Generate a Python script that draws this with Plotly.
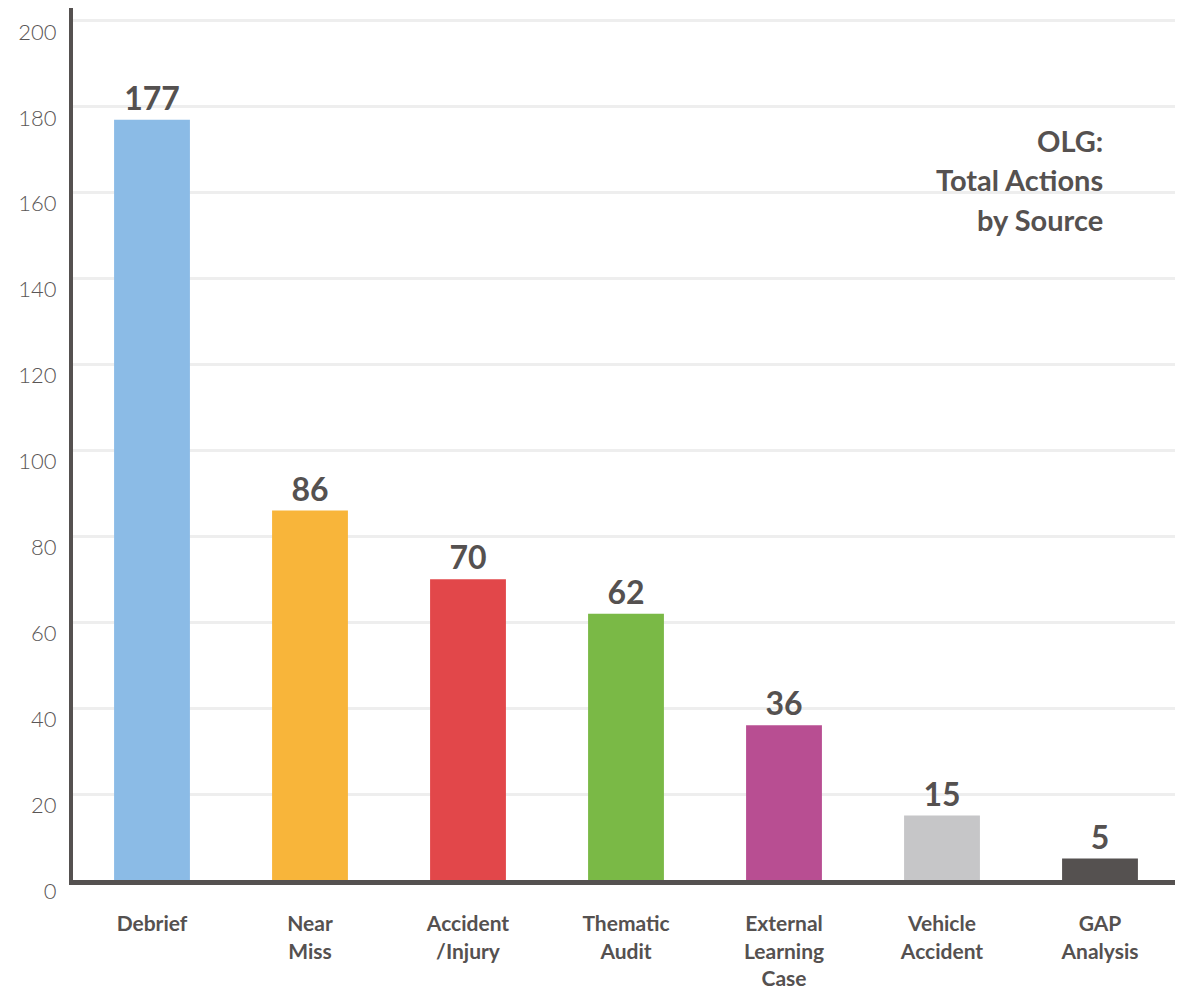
import plotly.graph_objects as go

categories = ["Debrief", "Near<br>Miss", "Accident<br>/Injury", "Thematic<br>Audit",
              "External<br>Learning<br>Case", "Vehicle<br>Accident", "GAP<br>Analysis"]
values = [177, 86, 70, 62, 36, 15, 5]
colors = ["#8BBBE6", "#F8B53A", "#E2474A", "#7AB946", "#B84E92", "#C6C6C8", "#555150"]
y_ticks = [0, 20, 40, 60, 80, 100, 120, 140, 160, 180, 200]
title_lines = ["OLG:", "Total Actions", "by Source"]

DARK = "#555150"
FONT = "Lato"

fig = go.Figure(go.Bar(
    x=categories, y=values,
    marker=dict(color=colors, line=dict(width=0)),
    text=[str(v) for v in values],
    textposition="outside",
    textfont=dict(family=FONT, size=32, color=DARK, weight="bold"),
    cliponaxis=False,
))

# page body has an 8px margin; figure sized/margined to compensate
fig.update_layout(
    width=1175, height=981,
    margin=dict(l=65, r=4, t=0, b=109),
    plot_bgcolor="white", paper_bgcolor="white",
    bargap=0.52,
    showlegend=False,
    font=dict(family=FONT, color=DARK),
)

fig.update_xaxes(
    automargin=False,
    showline=True, linewidth=5, linecolor=DARK,
    showgrid=False, ticks="",
    tickfont=dict(family=FONT, size=21, color=DARK, weight="bold"),
    ticklabelstandoff=21,
    ticklabeloverflow="allow",
)
fig.update_yaxes(
    automargin=False,
    range=[0, 203],
    tickvals=y_ticks,
    showline=True, linewidth=4, linecolor=DARK,
    showgrid=True, gridcolor="#EEEEEE", gridwidth=3,
    zeroline=False, ticks="",
    tickfont=dict(family=FONT, size=22, color="#5A5656", weight=300),
    ticklabelstandoff=8,
    ticklabelshift=11,
    ticklabeloverflow="allow",
)

ys = [0.848, 0.803, 0.758]
for line, yy in zip(title_lines, ys):
    fig.add_annotation(
        text=line, xref="paper", yref="paper", x=0.933, y=yy,
        xanchor="right", yanchor="middle", showarrow=False,
        font=dict(family=FONT, size=29, color=DARK, weight="bold"),
    )

fig.write_html("out.html")
